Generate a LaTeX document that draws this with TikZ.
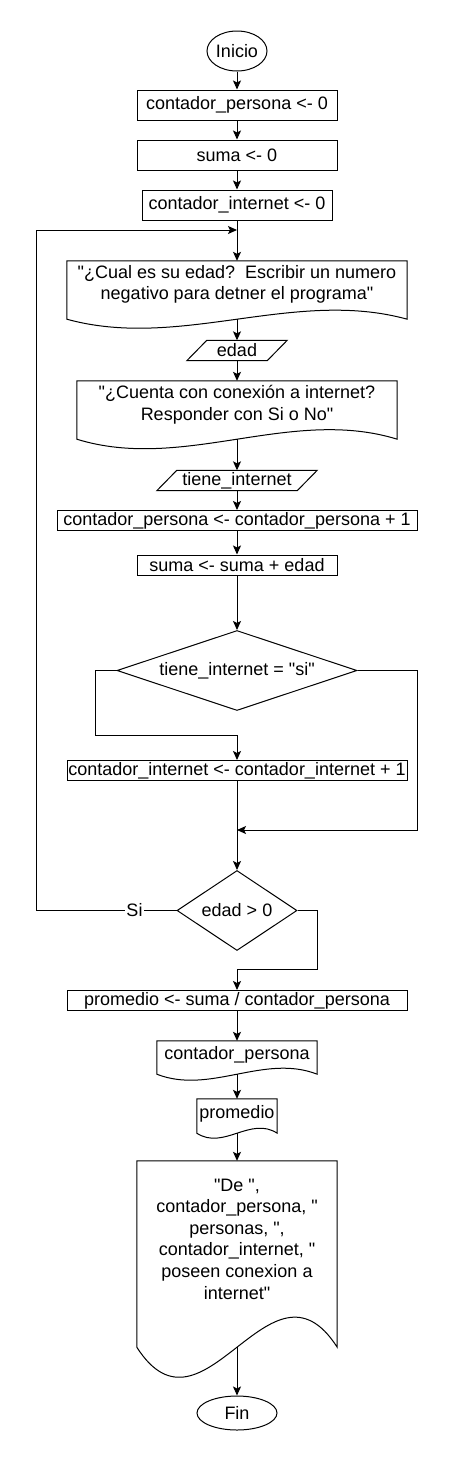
\documentclass[tikz,border=0pt]{standalone}
\usepackage{fontspec}
\setmainfont{Liberation Sans}
\usetikzlibrary{calc,arrows.meta,shapes.geometric}

\begin{document}
\begin{tikzpicture}[x=1pt,y=-1pt,font=\fontsize{18}{21.6}\selectfont]
	\tikzset{box/.style={draw,line width=1pt,inner sep=0pt,minimum height=20pt},
		term/.style={draw,ellipse,line width=1pt,inner sep=0pt},
		cond/.style={draw,diamond,line width=1pt,inner sep=0pt},
		plain/.style={inner sep=0pt,align=center},
		arr/.style={-{Stealth[length=9pt,width=8pt,inset=2pt]},line width=1pt}}
	\def\lw{1pt}
	\def\q{\textquotedbl}% straight quote
	% document outline: node, drop of the wave line, wave amplitude
	\def\docline#1#2#3{%
		\coordinate (#1-b) at ($(#1.south)+(0,#2)$);
		\draw[line width=\lw] (#1.north west) -- (#1.north east) -- ($(#1.south east)+(0,#2)$)
			.. controls ($(#1.south east)!0.333!(#1.south west)+(0,{#2-3.47*#3})$)
			and ($(#1.south east)!0.667!(#1.south west)+(0,{#2+3.47*#3})$)
			.. ($(#1.south west)+(0,#2)$) -- cycle;}
	\def\paraline#1{%
		\draw[line width=\lw] ([xshift=20pt]#1.north west) -- (#1.north east)
			-- ([xshift=-20pt]#1.south east) -- (#1.south west) -- cycle;}
	\fill[white] (0,0) rectangle (457,1462);
	\node[term,minimum width=60pt,minimum height=40pt] (inicio) at (237,51) {Inicio};
	\node[box,minimum width=200pt,minimum height=30pt] (cp0) at (237,105) {contador\_persona <- 0};
	\node[box,minimum width=200pt,minimum height=30pt] (s0) at (237,155) {suma <- 0};
	\node[box,minimum width=190pt,minimum height=30pt] (ci0) at (237,205) {contador\_internet <- 0};
	\coordinate (loop) at (237,230);
	\node[plain,minimum width=340pt,minimum height=47pt] (pregEdad) at (237,284.5)
		{\q¿Cual es su edad?\ \ Escribir un numero\\negativo para detner el programa\q};
	\node[plain,minimum width=100pt,minimum height=20pt] (edad) at (237,350.5) {edad};
	\node[plain,minimum width=320pt,minimum height=48pt] (pregNet) at (237,405)
		{\q¿Cuenta con conexión a internet?\\Responder con Si o No\q};
	\node[plain,minimum width=160pt,minimum height=20pt] (tieneNet) at (237,480.5) {tiene\_internet};
	\node[box,minimum width=360pt] (cp1) at (237,520.5) {contador\_persona <- contador\_persona + 1};
	\node[box,minimum width=200pt] (s1) at (237,565) {suma <- suma + edad};
	\node[cond,minimum width=240pt,minimum height=80pt,aspect=3] (d1) at (237,670.5) {tiene\_internet = \q si\q};
	\node[box,minimum width=340pt] (ci1) at (237,770.5) {contador\_internet <- contador\_internet + 1};
	\coordinate (merge) at (237,830);
	\node[cond,minimum width=120pt,minimum height=80pt,aspect=1.5] (d2) at (237,910.5) {edad > 0};
	\node[box,minimum width=340pt] (prom) at (237,1000.5) {promedio <- suma / contador\_persona};
	\node[plain,minimum width=160pt,minimum height=28pt] (outCont) at (237,1055) {contador\_persona};
	\node[plain,minimum width=80pt,minimum height=30pt] (outProm) at (237,1114) {promedio};
	\node[plain,minimum width=200pt,minimum height=156pt] (outFinal) at (237,1239)
		{\q De \q,\\contador\_persona, \q\\personas, \q,\\contador\_internet, \q\\poseen conexion a\\internet\q};
	\node[term,minimum width=80pt,minimum height=34pt] (fin) at (237,1413) {Fin};
	\docline{pregEdad}{11}{9}
	\docline{pregNet}{10}{9.5}
	\docline{outCont}{5}{6}
	\docline{outProm}{4}{5}
	\docline{outFinal}{30}{30}
	\paraline{edad}
	\paraline{tieneNet}
	\draw[arr] (inicio.south) -- (cp0.north);
	\draw[arr] (cp0.south) -- (s0.north);
	\draw[arr] (s0.south) -- (ci0.north);
	\draw[arr] (ci0.south) -- (pregEdad.north);
	\draw[arr] (pregEdad-b) -- (edad.north);
	\draw[arr] (edad.south) -- (pregNet.north);
	\draw[arr] (pregNet-b) -- (tieneNet.north);
	\draw[arr] (tieneNet.south) -- (cp1.north);
	\draw[arr] (cp1.south) -- (s1.north);
	\draw[arr] (s1.south) -- (d1.north);
	\draw[arr] (d1.west) -- ++(-21,0) |- ($(ci1.north)+(0,-25)$) -- (ci1.north);
	\draw[arr] (d1.east) -- ++(60,0) |- (merge);
	\draw[arr] (ci1.south) -- (d2.north);
	\draw[arr] (d2.west) -- node[pos=0.3,fill=white,inner sep=1pt] {Si} ++(-140,0) |- (loop);
	\draw[arr] (d2.east) -- ++(20,0) |- ($(prom.north)+(0,-20.5)$) -- (prom.north);
	\draw[arr] (prom.south) -- (outCont.north);
	\draw[arr] (outCont-b) -- (outProm.north);
	\draw[arr] (outProm-b) -- (outFinal.north);
	\draw[arr] (outFinal-b) -- (fin.north);
\end{tikzpicture}
\end{document}
